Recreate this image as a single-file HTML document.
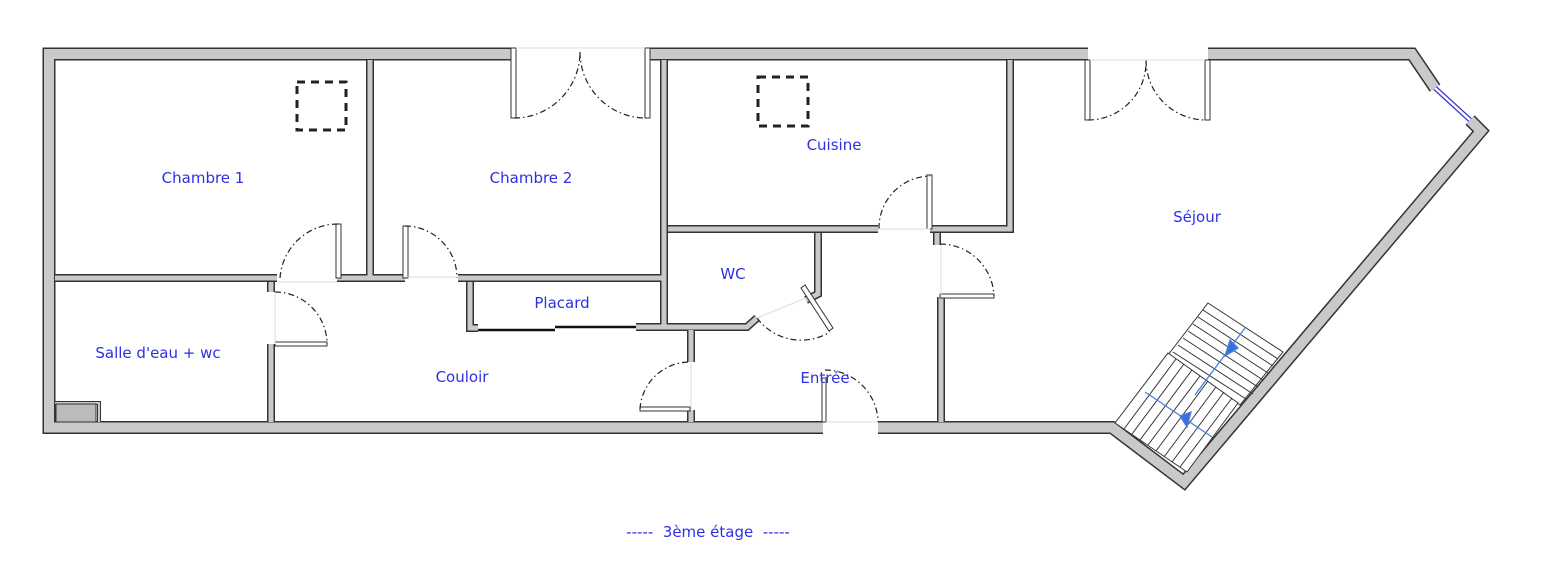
<!DOCTYPE html>
<html><head><meta charset="utf-8"><style>
html,body{margin:0;padding:0;background:#fff;}
svg{display:block;}
text{font-family:"DejaVu Sans","Liberation Sans",sans-serif;font-size:15px;fill:#2f2fe6;text-anchor:middle;}
</style></head><body>
<svg width="1558" height="582" viewBox="0 0 1558 582" xmlns="http://www.w3.org/2000/svg">
<g fill="none" stroke-linejoin="miter" stroke-linecap="butt">
 <g stroke="#333">
  <path stroke-width="13" d="M512,54 H49 V427.5 H823 M878,427.5 H1112 L1184,482 L1481,131 L1470,120 M1435,88 L1412,54 H1208 M1088,54 H648"/>
  <g stroke-width="8">
   <path d="M370,60 V278 M55,278 H277 M337,278 H405 M458,278 H664 M664,60 V328"/>
   <path d="M271,282 V292 M271,344 V422"/>
   <path d="M470,282 V328 H478 M636,327 H693 M691,330 V362 M691,410 V422"/>
   <path d="M668,229 H878 M930,229 H1010 V60"/>
   <path d="M818,233 V294 L806,300 M672,327 H747 L757,318"/>
   <path d="M937,233 V245 M941,297 V422"/>
  </g>
 </g>
 <g stroke="#c9c9c9">
  <path stroke-width="10" d="M512,54 H49 V427.5 H823 M878,427.5 H1112 L1184,482 L1481,131 L1470,120 M1435,88 L1412,54 H1208 M1088,54 H648"/>
  <g stroke-width="5">
   <path d="M370,60 V278 M55,278 H277 M337,278 H405 M458,278 H664 M664,60 V328"/>
   <path d="M271,282 V292 M271,344 V422"/>
   <path d="M470,282 V328 H478 M636,327 H693 M691,330 V362 M691,410 V422"/>
   <path d="M668,229 H878 M930,229 H1010 V60"/>
   <path d="M818,233 V294 L806,300 M672,327 H747 L757,318"/>
   <path d="M937,233 V245 M941,297 V422"/>
  </g>
 </g>
</g>
<path d="M55,403 H99 V422" fill="none" stroke="#333" stroke-width="4"/>
<path d="M55,403 H99 V422" fill="none" stroke="#c9c9c9" stroke-width="2"/>
<rect x="56" y="404" width="40" height="18" fill="#bbb" stroke="#333" stroke-width="1"/>
<!-- window -->
<path d="M1435,88 L1470,120" stroke="#3a3acc" stroke-width="5"/>
<path d="M1435,88 L1470,120" stroke="#fff" stroke-width="2.5"/>
<!-- placard sliding doors -->
<path d="M478,330 H555 M555,327 H636" stroke="#111" stroke-width="2.5"/>
<!-- door leaves -->
<g fill="#fff" stroke="#333" stroke-width="1">
 <rect x="511" y="48" width="5" height="70"/>
 <rect x="645" y="48" width="5" height="70"/>
 <rect x="1085" y="60" width="5" height="60"/>
 <rect x="1205" y="60" width="5" height="60"/>
 <rect x="336" y="224" width="5" height="54"/>
 <rect x="403" y="226" width="5" height="52"/>
 <rect x="275" y="342" width="52" height="4"/>
 <rect x="927" y="175" width="5" height="54"/>
 <rect x="940" y="294" width="54" height="4"/>
 <rect x="640" y="407" width="50" height="4"/>
 <rect x="822" y="378" width="4" height="44"/>
 <path d="M801,288 L805,285 L833,328 L829,331 Z"/>
</g>
<!-- arcs dash-dot -->
<g fill="none" stroke="#222" stroke-width="1.2" stroke-dasharray="6,3,1.5,3">
 <path d="M514,118 A66,66 0 0 0 580,52"/>
 <path d="M580,52 A66,66 0 0 0 646,118"/>
 <path d="M1088,120 A58,58 0 0 0 1146,60"/>
 <path d="M1146,60 A60,60 0 0 0 1206,120"/>
 <path d="M280,278 A58,58 0 0 1 338,224"/>
 <path d="M405,226 A52,52 0 0 1 457,278"/>
 <path d="M275,292 A52,52 0 0 1 327,344"/>
 <path d="M879,229 A52,52 0 0 1 930,176"/>
 <path d="M940,244 A54,54 0 0 1 994,296"/>
 <path d="M640,409 A50,50 0 0 1 690,362"/>
 <path d="M825,370 A53,53 0 0 1 878,422"/>
 <path d="M757,318 A55,55 0 0 0 830,332"/>
 <path d="M297,82 H346 V130 H297 Z" stroke-dasharray="8,6" stroke-width="3"/>
 <path d="M758,77 H808 V126 H758 Z" stroke-dasharray="8,6" stroke-width="3"/>
</g>
<!-- opening thin lines -->
<g stroke="#ddd" stroke-width="1">
 <path d="M516,48 H645 M1090,60 H1205 M277,282 H337 M405,277 H458 M275,292 V344 M878,229 H930 M941,245 V297 M691,362 V410 M826,422 H878 M757,318 L806,298"/>
</g>
<!-- stairs -->
<g fill="none" stroke="#333" stroke-width="1">
 <path d="M1208,303 L1283,352 L1240,405 L1168,355 Z" fill="#fff"/>
 <path d="M1168,353 L1238,403 L1187,472 L1115,423 Z" fill="#fff"/>
 <path d="M1203,310 L1278,359 M1198,317 L1273,366 M1193,324 L1268,373 M1188,331 L1263,380 M1183,338 L1258,387 M1178,345 L1253,394 M1173,352 L1246,399"/>
 <path d="M1176,359 L1124,429 M1184,364 L1132,434 M1192,370 L1140,440 M1200,376 L1148,445 M1208,381 L1156,451 M1216,387 L1164,457 M1224,392 L1172,462 M1232,398 L1180,467"/>
</g>
<g stroke="#4a7fe0" stroke-width="1.3" fill="#3a6fe0">
 <path d="M1245,328 L1195,395" fill="none"/>
 <path d="M1145,392 L1212,437" fill="none"/>
 <path d="M1230,340 L1238,348 L1225,356 Z"/>
 <path d="M1180,416 L1191,412 L1187,427 Z"/>
</g>
<!-- labels -->
<text x="203" y="183">Chambre 1</text>
<text x="531" y="183">Chambre 2</text>
<text x="834" y="150">Cuisine</text>
<text x="1197" y="222">Séjour</text>
<text x="733" y="279">WC</text>
<text x="562" y="308">Placard</text>
<text x="158" y="358">Salle d'eau + wc</text>
<text x="462" y="382">Couloir</text>
<text x="825" y="383">Entrée</text>
<text x="708" y="537" xml:space="preserve">-----  3ème étage  -----</text>
</svg>
</body></html>
